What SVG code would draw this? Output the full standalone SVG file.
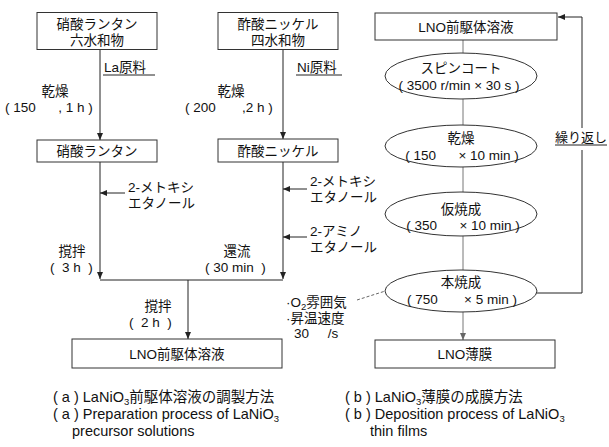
<svg xmlns="http://www.w3.org/2000/svg" width="609" height="447" viewBox="0 0 609 447">
<style>
text{font-family:"Liberation Sans","Noto Sans CJK JP",sans-serif;font-size:13.5px;fill:#111;white-space:pre}
.c{text-anchor:middle}
.box{fill:#fff;stroke:#333;stroke-width:1}
.ell{fill:#fff;stroke:#333;stroke-width:1}
.ln{fill:none;stroke:#222;stroke-width:1}
.lg{fill:none;stroke:#777;stroke-width:1}
.cap{font-size:14.5px}
.sub{font-size:9.5px}
</style>
<defs>
<marker id="ah" markerUnits="userSpaceOnUse" markerWidth="7" markerHeight="6" refX="7" refY="3" orient="auto"><path d="M0,0 L7,3 L0,6 z" fill="#222"/></marker>
<marker id="ahg" markerUnits="userSpaceOnUse" markerWidth="7" markerHeight="6" refX="7" refY="3" orient="auto"><path d="M0,0 L7,3 L0,6 z" fill="#666"/></marker>
</defs>
<rect width="609" height="447" fill="#fff"/>

<g id="connectors">
<path class="ln" d="M100,50 V140" marker-end="url(#ah)"/>
<path class="ln" d="M283,49 V139" marker-end="url(#ah)"/>
<path class="ln" d="M100,162 V279" marker-end="url(#ah)"/>
<path class="ln" d="M283,162 V279" marker-end="url(#ah)"/>
<path class="ln" d="M100,280 H283"/>
<path class="ln" d="M188,280 V339" marker-end="url(#ah)"/>
<path class="ln" d="M125,193 H100" marker-end="url(#ah)"/>
<path class="ln" d="M307,189 H283" marker-end="url(#ah)"/>
<path class="ln" d="M307,237 H283" marker-end="url(#ah)"/>
<path class="ln" d="M103,75 H155"/>
<path class="ln" d="M296,75 H342"/>
<path class="lg" d="M463,40 V53"/>
<path class="lg" d="M463,99 V125"/>
<path class="lg" d="M463,167 V192"/>
<path class="lg" d="M463,236 V270"/>
<path class="lg" d="M463,312 V340" marker-end="url(#ahg)"/>
<path class="ln" d="M536,293 H582 V150"/>
<path class="ln" d="M582,128 V17 H558" marker-end="url(#ah)"/>
<path class="ln" d="M555,145 H607"/>
<path fill="none" stroke="#666" stroke-width="1" stroke-dasharray="3,2" d="M357,300 L398,287" marker-end="url(#ahg)"/>
</g>

<g id="n-la-hydrate"><rect class="box" x="37" y="12.5" width="120" height="37"/><text class="c" x="97" y="29">硝酸ランタン</text><text class="c" x="97" y="45">六水和物</text></g>
<g id="n-ni-hydrate"><rect class="box" x="218" y="12.5" width="120" height="37"/><text class="c" x="278" y="29">酢酸ニッケル</text><text class="c" x="278" y="45">四水和物</text></g>
<g id="l-la"><text x="104" y="72">La原料</text></g>
<g id="l-ni"><text x="297" y="72">Ni原料</text></g>
<g id="l-dry1"><text class="c" x="55" y="96">乾燥</text><text x="5" y="112" xml:space="preserve">( 150      , 1 h )</text></g>
<g id="l-dry2"><text class="c" x="231" y="96">乾燥</text><text x="185" y="112" xml:space="preserve">( 200       ,2 h )</text></g>
<g id="n-la"><rect class="box" x="37" y="140" width="120" height="22"/><text class="c" x="97" y="156">硝酸ランタン</text></g>
<g id="n-ni"><rect class="box" x="218" y="139" width="120" height="23"/><text class="c" x="278" y="156">酢酸ニッケル</text></g>
<g id="l-me1"><text x="128" y="192">2-メトキシ</text><text x="128" y="208">エタノール</text></g>
<g id="l-me2"><text x="310" y="186">2-メトキシ</text><text x="310" y="202">エタノール</text></g>
<g id="l-am"><text x="310" y="236">2-アミノ</text><text x="310" y="252">エタノール</text></g>
<g id="l-stir1"><text class="c" x="72" y="256">撹拌</text><text x="50" y="272" xml:space="preserve">(  3 h  )</text></g>
<g id="l-reflux"><text class="c" x="237" y="256">還流</text><text x="205" y="272" xml:space="preserve">( 30 min  )</text></g>
<g id="l-stir2"><text class="c" x="158" y="311">撹拌</text><text x="129" y="327" xml:space="preserve">(  2 h  )</text></g>
<g id="n-lno-sol"><rect class="box" x="72" y="339" width="210" height="29"/><text class="c" x="177" y="359">LNO前駆体溶液</text></g>
<g id="l-o2"><text x="286" y="307">·O<tspan class="sub" dy="3">2</tspan><tspan dy="-3">雰囲気</tspan></text><text x="286" y="323">·昇温速度</text><text x="294" y="338" xml:space="preserve">30     /s</text></g>

<g id="n-lno-sol2"><rect class="box" x="375" y="13" width="182" height="27"/><text class="c" x="466" y="32">LNO前駆体溶液</text></g>
<g id="n-spin"><ellipse class="ell" cx="461" cy="76" rx="76" ry="23"/><text class="c" x="461" y="73">スピンコート</text><text class="c" x="459" y="90" xml:space="preserve">( 3500 r/min × 30 s )</text></g>
<g id="n-dry"><ellipse class="ell" cx="461" cy="146" rx="76" ry="21"/><text class="c" x="461" y="143">乾燥</text><text class="c" x="462" y="160" xml:space="preserve">( 150      × 10 min )</text></g>
<g id="n-precal"><ellipse class="ell" cx="461" cy="214" rx="76" ry="22"/><text class="c" x="461" y="214">仮焼成</text><text class="c" x="463" y="230" xml:space="preserve">( 350      × 10 min )</text></g>
<g id="n-cal"><ellipse class="ell" cx="461" cy="291" rx="76" ry="21"/><text class="c" x="461" y="287">本焼成</text><text class="c" x="462" y="304" xml:space="preserve">( 750       × 5 min )</text></g>
<g id="l-repeat"><text x="555" y="142" style="font-size:13px">繰り返し</text></g>
<g id="n-film"><rect class="box" x="375" y="340" width="180" height="28"/><text class="c" x="465" y="359">LNO薄膜</text></g>

<g id="captions">
<text class="cap" x="53" y="402" xml:space="preserve">( a ) LaNiO<tspan class="sub" dy="3">3</tspan><tspan dy="-3">前駆体溶液の調製方法</tspan></text>
<text class="cap" x="53" y="419" xml:space="preserve">( a ) Preparation process of LaNiO<tspan class="sub" dy="3">3</tspan></text>
<text class="cap" x="72" y="436">precursor solutions</text>
<text class="cap" x="345" y="402" xml:space="preserve">( b ) LaNiO<tspan class="sub" dy="3">3</tspan><tspan dy="-3">薄膜の成膜方法</tspan></text>
<text class="cap" x="345" y="419" xml:space="preserve">( b ) Deposition process of LaNiO<tspan class="sub" dy="3">3</tspan></text>
<text class="cap" x="370" y="436">thin films</text>
</g>
</svg>
